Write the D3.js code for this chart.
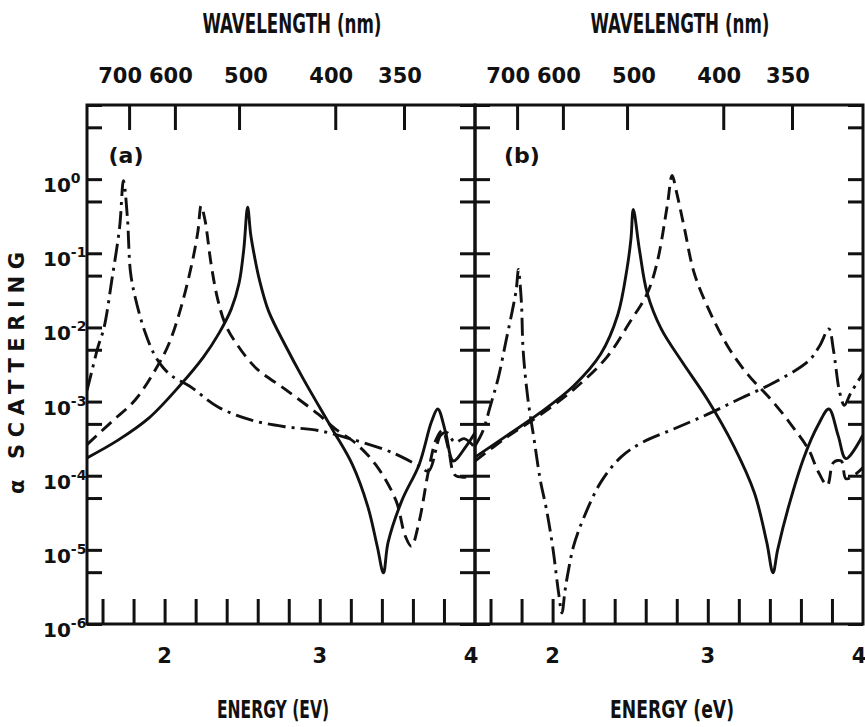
<!DOCTYPE html>
<html><head><meta charset="utf-8">
<script src="https://cdn.jsdelivr.net/npm/d3@7"></script>
<style>
html,body{margin:0;padding:0;background:#fff;}
svg{display:block;}
text{fill:#111;}
</style></head>
<body><svg id="chart" width="865" height="727"></svg>
<script>
// ---------- data ----------
const energyTicks = [1.6,1.8,2.0,2.2,2.4,2.6,2.8,3.0,3.2,3.4,3.6,3.8];
const energyLabels = [2,3,4];
const wavelengthTicks = [700,600,500,400,350];
const decadeTicks = [1e1,1e0,1e-1,1e-2,1e-3,1e-4,1e-5,1e-6];
const halfDecadeTicks = [5e0,5e-1,5e-2,5e-3,5e-4,5e-5,5e-6];
const decadeLabels = [0,-1,-2,-3,-4,-5,-6];
const panelTags = ["(a)","(b)"];
const energyTitles = ["ENERGY (EV)","ENERGY (eV)"];
const wavelengthTitle = "WAVELENGTH (nm)";
const yTitle = "\u03B1 SCATTERING";

// panel (a)
const aSolidE = [1.5,1.7,1.9,2.1,2.25,2.35,2.43,2.48,2.51,2.535,2.555,2.58,2.61,2.67,2.78,2.89,3.08,3.21,3.31,3.37,3.41,3.44,3.53,3.64,3.72,3.76,3.81,3.86,3.94,4.0];
const aSolidV = [1.74e-4,3.02e-4,6.03e-4,1.66e-3,3.98e-3,8.32e-3,1.78e-2,3.98e-2,0.112,0.417,0.178,8.91e-2,4.47e-2,1.66e-2,5.62e-3,2.09e-3,4.27e-4,1.41e-4,3.80e-5,1.12e-5,4.9e-6,1.26e-5,4.68e-5,1.41e-4,5.37e-4,7.94e-4,3.89e-4,1.58e-4,2.45e-4,3.80e-4];
const aDashE = [1.5,1.66,1.81,1.96,2.03,2.11,2.18,2.215,2.235,2.26,2.30,2.34,2.39,2.46,2.59,2.78,2.99,3.10,3.23,3.36,3.49,3.55,3.59,3.64,3.70,3.75,3.79,3.83,3.87,3.93,4.0];
const aDashV = [2.63e-4,5.37e-4,1.05e-3,3.16e-3,6.17e-3,2.0e-2,7.94e-2,0.200,0.437,0.282,7.08e-2,2.51e-2,1.12e-2,6.17e-3,2.82e-3,1.45e-3,6.76e-4,4.27e-4,2.75e-4,1.41e-4,4.68e-5,1.55e-5,1.12e-5,2.40e-5,1.15e-4,3.09e-4,4.07e-4,2.24e-4,1.02e-4,9.55e-5,1.02e-4];
const aDotE = [1.5,1.53,1.57,1.61,1.66,1.71,1.735,1.76,1.78,1.81,1.87,1.93,1.99,2.05,2.16,2.35,2.56,2.78,2.99,3.21,3.42,3.53,3.64,3.70,3.78,3.82,3.87,3.93,4.0];
const aDotV = [1.41e-3,2.51e-3,5.37e-3,1.0e-2,4.37e-2,0.224,0.955,0.309,5.62e-2,2.57e-2,9.12e-3,4.47e-3,2.88e-3,2.19e-3,1.62e-3,8.32e-4,5.62e-4,4.57e-4,4.07e-4,3.09e-4,2.24e-4,1.78e-4,1.35e-4,1.15e-4,3.55e-4,3.80e-4,2.82e-4,3.16e-4,2.40e-4];

// panel (b)
const bSolidE = [1.5,1.705,1.92,2.135,2.31,2.42,2.48,2.505,2.52,2.56,2.61,2.70,2.83,3.0,3.17,3.30,3.38,3.42,3.45,3.52,3.62,3.71,3.78,3.84,3.89,4.0];
const bSolidV = [1.78e-4,3.47e-4,7.08e-4,1.62e-3,4.37e-3,1.48e-2,6.31e-2,0.158,0.389,0.110,2.88e-2,9.55e-3,3.55e-3,1.05e-3,2.45e-4,5.89e-5,1.26e-5,4.9e-6,1.0e-5,3.80e-5,1.78e-4,4.79e-4,7.94e-4,3.47e-4,1.70e-4,3.55e-4];
const bDashE = [1.5,1.705,1.92,2.135,2.35,2.50,2.61,2.675,2.74,2.77,2.80,2.85,2.91,3.0,3.13,3.26,3.41,3.54,3.65,3.71,3.77,3.81,3.86,3.89,3.945,4.0];
const bDashV = [1.58e-4,3.31e-4,6.61e-4,1.45e-3,3.98e-3,1.20e-2,2.88e-2,7.76e-2,0.457,1.12,0.646,0.214,5.62e-2,1.86e-2,5.50e-3,2.29e-3,1.05e-3,4.79e-4,2.24e-4,1.15e-4,7.41e-5,1.51e-4,1.58e-4,9.12e-5,1.02e-4,1.29e-4];
const bDotE = [1.5,1.55,1.6,1.65,1.7,1.74,1.765,1.78,1.79,1.80,1.81,1.84,1.88,1.92,1.96,2.0,2.04,2.06,2.08,2.10,2.135,2.2,2.31,2.44,2.57,2.78,3.0,3.21,3.43,3.65,3.72,3.78,3.81,3.85,3.88,3.92,4.0];
const bDotV = [2.51e-4,3.98e-4,8.91e-4,2.09e-3,6.61e-3,1.66e-2,3.16e-2,6.03e-2,3.98e-2,2.0e-2,5.01e-3,1.12e-3,3.16e-4,8.91e-5,3.55e-5,1.12e-5,2.51e-6,1.41e-6,2.82e-6,5.01e-6,1.12e-5,2.69e-5,8.13e-5,1.78e-4,2.75e-4,4.27e-4,6.76e-4,1.10e-3,1.82e-3,3.55e-3,5.62e-3,9.55e-3,4.90e-3,1.32e-3,8.91e-4,1.29e-3,2.40e-3];

const panels = [
  {tag: panelTags[0], title: energyTitles[0], series: [
    {E: aSolidE, V: aSolidV, kind: "solid"},
    {E: aDashE, V: aDashV, kind: "dash"},
    {E: aDotE, V: aDotV, kind: "dashdot"}]},
  {tag: panelTags[1], title: energyTitles[1], series: [
    {E: bSolidE, V: bSolidV, kind: "solid"},
    {E: bDashE, V: bDashV, kind: "dash"},
    {E: bDotE, V: bDotV, kind: "dashdot"}]}
];

// ---------- layout / style ----------
const HC = 1239.84;
const plotTop = 105, plotBottom = 624;
const panelX = [[87, 475], [475, 863]];
const titleCx = [[292, 273], [680, 672]];
const numFont = "'DejaVu Sans', Verdana, sans-serif";
const condFont = "'DejaVu Sans Condensed', 'Liberation Sans Narrow', 'DejaVu Sans', sans-serif";
const lw = 3;
const dashStyles = {solid: null, dash: "13,7", dashdot: "18,6,3,6"};
const wlNudge = {700: -9, 600: -4, 500: 7, 400: -4, 350: -4};

const svg = d3.select("#chart");
const y = d3.scaleLog().domain([1e-6, 1e1]).range([plotBottom, plotTop]);

panels.forEach((p, pi) => {
  const [x0, x1] = panelX[pi];
  const x = d3.scaleLinear().domain([1.5, 4.0]).range([x0, x1]);
  const g = svg.append("g");

  const cid = "clip" + pi;
  svg.append("clipPath").attr("id", cid).append("rect")
    .attr("x", x0).attr("y", plotTop).attr("width", x1 - x0).attr("height", plotBottom - plotTop);

  const yTickVals = decadeTicks.concat(halfDecadeTicks);
  const leftAx = d3.axisRight(y).tickValues(yTickVals).tickSize(15).tickSizeOuter(0).tickFormat("");
  const rightAx = d3.axisLeft(y).tickValues(yTickVals).tickSize(15).tickSizeOuter(0).tickFormat("");
  const bottomAx = d3.axisTop(x).tickValues(energyTicks).tickSize(25).tickSizeOuter(0).tickFormat("");
  const topAx = d3.axisBottom(x).tickValues(wavelengthTicks.map(l => HC / l)).tickSize(25).tickSizeOuter(0).tickFormat("");

  [[leftAx, `translate(${x0},0)`], [rightAx, `translate(${x1},0)`],
   [bottomAx, `translate(0,${plotBottom})`], [topAx, `translate(0,${plotTop})`]].forEach(([ax, tr]) => {
    const a = g.append("g").attr("transform", tr).call(ax);
    a.select(".domain").remove();
    a.selectAll(".tick line").attr("stroke", "#111").attr("stroke-width", lw);
  });

  g.append("rect").attr("x", x0).attr("y", plotTop).attr("width", x1 - x0).attr("height", plotBottom - plotTop)
    .attr("fill", "none").attr("stroke", "#111").attr("stroke-width", lw);

  const cg = g.append("g").attr("clip-path", `url(#${cid})`);
  p.series.forEach(s => {
    const line = d3.line()
      .x((d, i) => x(s.E[i]))
      .y((d, i) => y(s.V[i]))
      .curve(d3.curveCatmullRom.alpha(0.5));
    cg.append("path").attr("d", line(s.E))
      .attr("fill", "none").attr("stroke", "#111").attr("stroke-width", 2.9)
      .attr("stroke-linejoin", "round").attr("stroke-linecap", "butt")
      .attr("stroke-dasharray", dashStyles[s.kind]);
  });

  g.selectAll(".elab").data(energyLabels).enter().append("text")
    .attr("x", d => x(d) - (d === 4 ? 4 : 0)).attr("y", 663)
    .attr("text-anchor", "middle").attr("font-family", numFont).attr("font-weight", "bold")
    .attr("font-size", 21).text(d => d);

  g.selectAll(".wlab").data(wavelengthTicks).enter().append("text")
    .attr("x", d => x(HC / d) + wlNudge[d]).attr("y", 83)
    .attr("text-anchor", "middle").attr("font-family", numFont).attr("font-weight", "bold")
    .attr("font-size", 21).text(d => d);

  g.append("text").attr("x", titleCx[pi][0]).attr("y", 33).attr("text-anchor", "middle")
    .attr("font-family", condFont).attr("font-weight", "bold").attr("font-size", 27)
    .attr("textLength", 179).attr("lengthAdjust", "spacingAndGlyphs").text(wavelengthTitle);
  g.append("text").attr("x", titleCx[pi][1]).attr("y", 718).attr("text-anchor", "middle")
    .attr("font-family", condFont).attr("font-weight", "bold").attr("font-size", 25)
    .attr("textLength", pi === 0 ? 112 : 124).attr("lengthAdjust", "spacingAndGlyphs").text(p.title);

  g.append("text").attr("x", x0 + (pi === 0 ? 39 : 47)).attr("y", 163).attr("text-anchor", "middle")
    .attr("font-family", numFont).attr("font-weight", "bold").attr("font-size", 22).text(p.tag);
});

const yl = svg.append("g");
decadeLabels.forEach(k => {
  const t = yl.append("text").attr("x", 43).attr("y", y(Math.pow(10, k)) + 13)
    .attr("font-family", numFont).attr("font-weight", "bold").attr("font-size", 20);
  t.append("tspan").text("10");
  t.append("tspan").attr("dy", -9).attr("font-size", 14).text(k === 0 ? "0" : "-" + Math.abs(k));
});

svg.append("text").attr("transform", "translate(24,373) rotate(-90)")
  .attr("text-anchor", "middle").attr("font-family", numFont).attr("font-weight", "bold")
  .attr("font-size", 21).attr("textLength", 242).attr("lengthAdjust", "spacing").text(yTitle);
</script>
</body></html>
